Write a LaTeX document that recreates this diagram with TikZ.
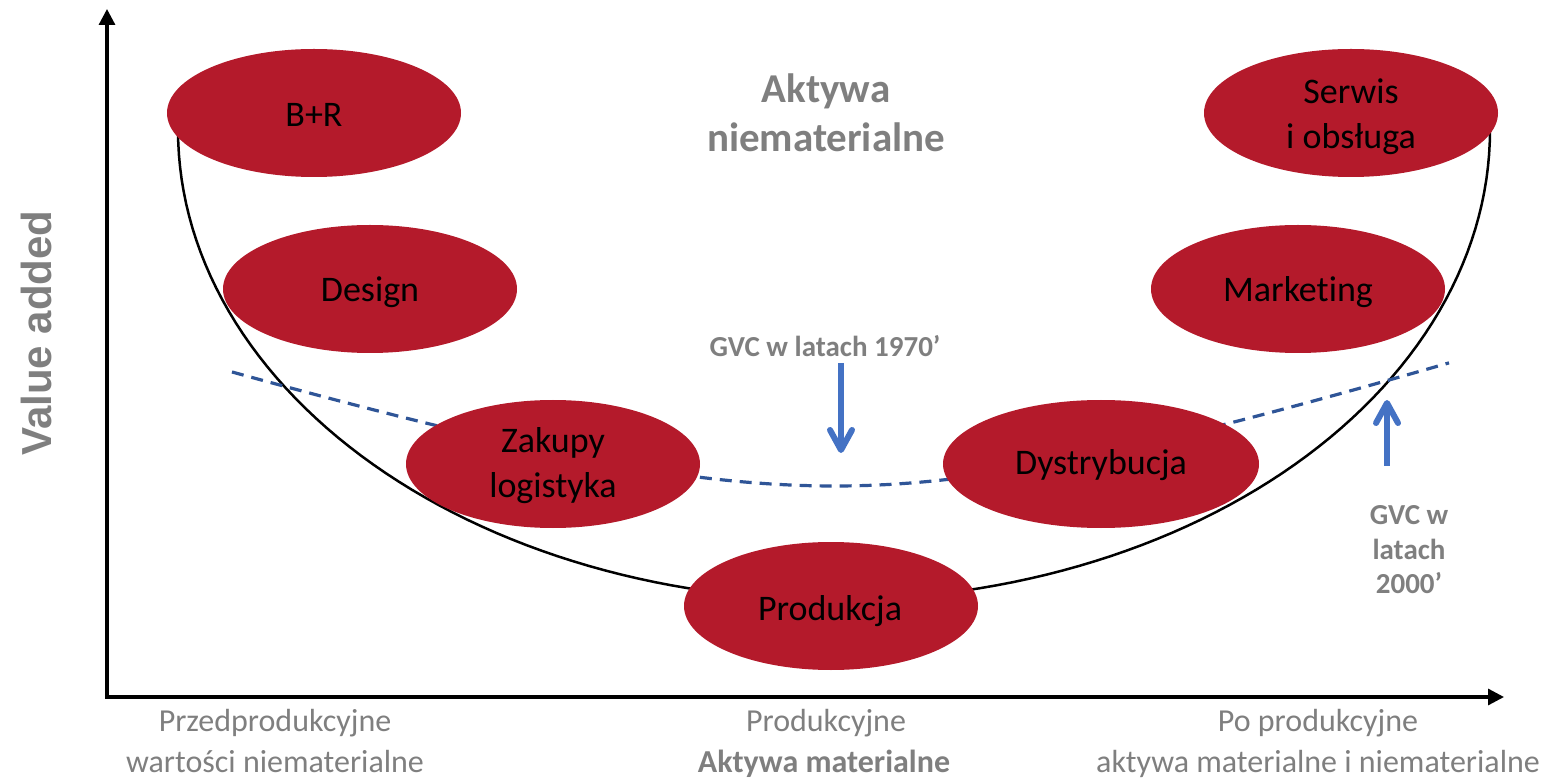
\documentclass[tikz,border=0pt]{standalone}
\usepackage{fontspec}
\setmainfont{Carlito}[Ligatures={NoCommon,NoRare}]
\newfontfamily\arialfont{Liberation Sans}
\usetikzlibrary{shapes.geometric,arrows.meta}
\definecolor{ured}{HTML}{B41A2B}
\definecolor{ugrey}{HTML}{7F7F7F}
\definecolor{ublue}{HTML}{4472C4}
\definecolor{udash}{HTML}{2F5597}
\tikzset{
  ell/.style={ellipse, fill=ured, minimum width=147pt, minimum height=64pt, inner sep=0pt},
  lab/.style={anchor=base, inner sep=0pt, text=black, font=\fontsize{18}{22}\selectfont},
  toplab/.style={anchor=base, inner sep=0pt, text=ugrey, font=\fontsize{20.5}{25}\selectfont\bfseries},
  gvclab/.style={anchor=base, inner sep=0pt, text=ugrey, font=\fontsize{14.5}{17}\selectfont\bfseries},
  axlab/.style={anchor=base, inner sep=0pt, text=ugrey, font=\fontsize{16}{20}\selectfont},
  axlabb/.style={axlab, font=\fontsize{16}{20}\selectfont\bfseries},
  axisline/.style={line width=1.6pt, {Triangle[length=8pt,width=8pt]}-{Triangle[length=8pt,width=8pt]}},
  ucurve/.style={line width=1.25pt, black},
  gvcline/.style={line width=1.6pt, udash, dash pattern=on 6pt off 4pt},
  bluearrow/.style={line width=3pt, ublue, -{Straight Barb[length=10pt,width=11pt,round]}}
}
\begin{document}
\begin{tikzpicture}[x=0.5pt,y=-0.5pt]
\useasboundingbox (0,0) rectangle (1542,780);
% axes
\coordinate (ytop) at (107,9);
\coordinate (O) at (107,697);
\coordinate (xend) at (1504,697);
\draw[axisline] (ytop) -- (O) -- (xend);
% U curve
\draw[ucurve] plot[domain=180:360, samples=120] ({834+656*cos(\x)},{130-470*sin(\x)});
% dashed GVC curve
\draw[gvcline] plot[domain=232:1449, samples=120]
  (\x,{582.2-100*sqrt(0.9254+((0.31+0.011*(\x>835))*(\x-835)/100)^2)});
% ellipses
\node[ell] (br) at (314,113) {};
\node[ell] (serwis) at (1351,113) {};
\node[ell] (design) at (370,289) {};
\node[ell] (marketing) at (1298,289) {};
\node[ell] (zakupy) at (553,464) {};
\node[ell, minimum width=158pt] (dystr) at (1101,464) {};
\node[ell] (prod) at (831,606) {};
% ellipse labels
\node[lab] (tbr) at (314,127) {B+R};
\node[lab] (tserw1) at (1351,104) {Serwis};
\node[lab] (tserw2) at (1351,149) {i obsługa};
\node[lab] (tdes) at (370,302) {Design};
\node[lab] (tmark) at (1298,302) {Marketing};
\node[lab] (tzak1) at (553,452) {Zakupy};
\node[lab] (tzak2) at (553,497) {logistyka};
\node[lab] (tdys) at (1101,474) {Dystrybucja};
\node[lab] (tprod) at (830,620) {Produkcja};
% top title
\node[toplab] (akt1) at (826,103) {Aktywa};
\node[toplab] (akt2) at (826,152) {niematerialne};
% GVC labels
\node[gvclab] (g70) at (825,357) {GVC w latach 1970’};
\node[gvclab] (g00a) at (1409,524) {GVC w};
\node[gvclab] (g00b) at (1409,559) {latach};
\node[gvclab] (g00c) at (1409,593) {2000’};
% blue arrows
\coordinate (a70s) at (841,363);
\coordinate (a70e) at (841,453);
\draw[bluearrow] (a70s) -- (a70e);
\coordinate (a00s) at (1387,466);
\coordinate (a00e) at (1387,400);
\draw[bluearrow] (a00s) -- (a00e);
% y label
\node[rotate=90, inner sep=0pt, text=ugrey, font=\arialfont\fontsize{21}{25}\selectfont\bfseries] (va) at (36,333) {Value added};
% x labels
\node[axlab] (x1a) at (275,731) {Przedprodukcyjne};
\node[axlab] (x1b) at (275,772) {wartości niematerialne};
\node[axlab] (x2a) at (826,731) {Produkcyjne};
\node[axlabb] (x2b) at (824,772) {Aktywa materialne};
\node[axlab] (x3a) at (1318,731) {Po produkcyjne};
\node[axlab] (x3b) at (1318,772) {aktywa materialne i niematerialne};
\end{tikzpicture}
\end{document}
